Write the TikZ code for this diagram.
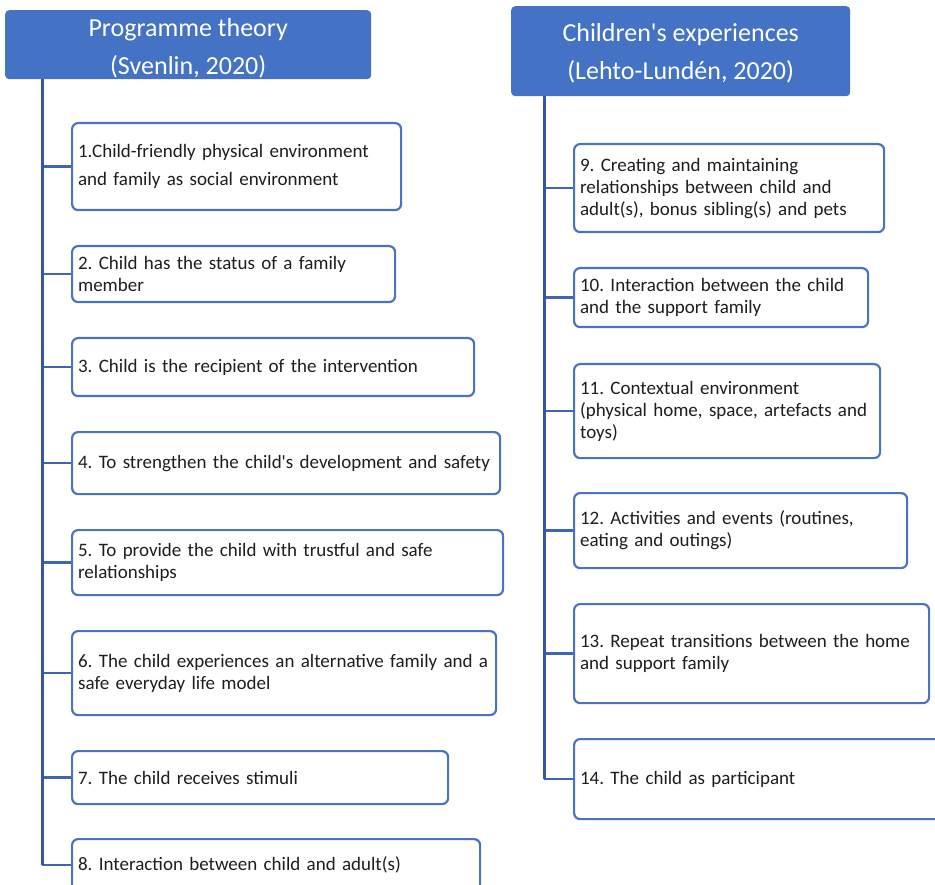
\documentclass[tikz,border=0pt]{standalone}
\usepackage{fontspec}
\setmainfont{Carlito}[Ligatures=TeXOff]
\frenchspacing
\definecolor{hdr}{HTML}{4472C4}
\definecolor{brd}{HTML}{4A74C0}
\definecolor{lin}{HTML}{3458A2}
\definecolor{brn}{HTML}{3E66B2}
\definecolor{txt}{HTML}{1E1E1E}
\tikzset{
  hdrbox/.style={draw=none, fill=hdr, rounded corners=4pt, text=white, align=center,
    font=\fontsize{26}{38}\selectfont, inner sep=0pt, anchor=north west},
  itembox/.style={draw=brd, line width=2.2pt, fill=white, rounded corners=6pt, text=txt,
    align=left, font=\fontsize{19}{22}\selectfont, inner xsep=6pt, inner ysep=0pt, anchor=north west},
  trunk/.style={draw=lin, line width=3pt},
  branch/.style={draw=brn, line width=2.3pt},
}
\newcommand{\ibox}[7]{% name, x1, y1, x2, y2, text
  \node[itembox, minimum width={#4-#2}, minimum height={#5-#3}, text width={#4-#2-12}] (#1) at (#2,#3) {#6};
}
\begin{document}
\begin{tikzpicture}[x=1pt,y=-1pt]
\useasboundingbox (0,0) rectangle (935,885);
\begin{scope}
\clip (0,0) rectangle (935,885);
% headers
\node[hdrbox, minimum width=366, minimum height=69] (h1) at (5,10) {\rule{0pt}{26pt}Programme theory\\(Svenlin, 2020)};
\node[hdrbox, minimum width=339, minimum height=90] (h2) at (511,6) {\rule{0pt}{23pt}Children's experiences\\(Lehto-Lundén, 2020)};
% left boxes
\ibox{b1}{71}{122}{400}{209}{1.Child-friendly physical environment\\[6pt]and family as social environment}{}
\ibox{b2}{71}{245}{394}{301}{2. Child has the status of a family\\member}{}
\ibox{b3}{71}{337}{473}{395}{3. Child is the recipient of the intervention}{}
\ibox{b4}{71}{431}{499}{493}{4. To strengthen the child's development and safety}{}
\ibox{b5}{71}{529}{502}{594}{5. To provide the child with trustful and safe\\relationships}{}
\ibox{b6}{71}{630}{495}{714}{6. The child experiences an alternative family and a\\safe everyday life model}{}
\ibox{b7}{71}{750}{447}{803}{7. The child receives stimuli}{}
\ibox{b8}{71}{838}{479}{890}{8. Interaction between child and adult(s)}{}
% right boxes
\ibox{b9}{573}{143}{883}{231}{9. Creating and maintaining\\relationships between child and\\adult(s), bonus sibling(s) and pets}{}
\ibox{b10}{573}{267}{867}{326}{10. Interaction between the child\\and the support family}{}
\ibox{b11}{573}{363}{879}{457}{11. Contextual environment\\(physical home, space, artefacts and\\toys)}{}
\ibox{b12}{573}{492}{906}{567}{12. Activities and events (routines,\\eating and outings)}{}
\ibox{b13}{573}{603}{928}{702}{13. Repeat transitions between the home\\and support family}{}
\ibox{b14}{573}{738}{945}{818}{14. The child as participant}{}
% branches
\foreach \b in {b1,b2,b3,b4,b5,b6,b7,b8} \draw[branch] (42,0 |- \b.west) -- (\b.west);
\foreach \b in {b9,b10,b11,b12,b13,b14} \draw[branch] (544,0 |- \b.west) -- (\b.west);
% trunks
\draw[trunk] (h1.south -| 42,0) -- (42,0 |- b8.west);
\draw[trunk] (h2.south -| 544,0) -- (544,0 |- b14.west);
\end{scope}
\end{tikzpicture}
\end{document}
